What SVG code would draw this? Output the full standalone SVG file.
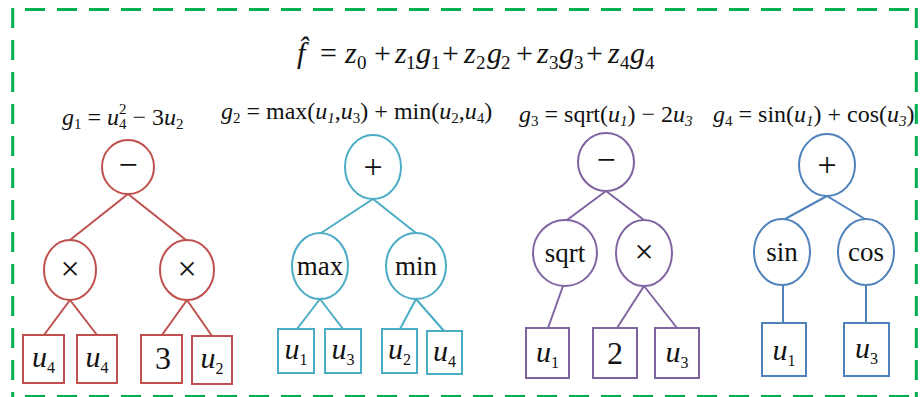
<svg xmlns="http://www.w3.org/2000/svg" width="920" height="397" viewBox="0 0 920 397">
<style>
text{font-family:"Liberation Serif","Times New Roman",serif;fill:#111}
.i{font-style:italic}
.lab{font-size:24px}
.s{font-size:15px}
.fm{font-size:30px}
.fs{font-size:19px}
.nt{font-size:27px;text-anchor:middle}
.op{font-size:34px;text-anchor:middle}
.lf{font-size:30px;text-anchor:middle}
.ls{font-size:16px;font-style:normal}
.dg{font-size:32px;text-anchor:middle}
.border{stroke:#00B050;stroke-width:3;stroke-dasharray:20 12;fill:none}
.red{stroke:#C0504D;stroke-width:2;fill:#fff}
.cyan{stroke:#4BACC6;stroke-width:2;fill:#fff}
.pur{stroke:#8064A2;stroke-width:2;fill:#fff}
.blu{stroke:#4F81BD;stroke-width:2;fill:#fff}
.er{stroke:#C0504D;stroke-width:2}
.ec{stroke:#4BACC6;stroke-width:2}
.ep{stroke:#8064A2;stroke-width:2}
.eb{stroke:#4F81BD;stroke-width:2}
</style>
<g id="frame">
<line class="border" x1="25" y1="9.5" x2="917" y2="9.5"/>
<line class="border" x1="12.7" y1="8" x2="12.7" y2="397"/>
<line class="border" x1="916.3" y1="8" x2="916.3" y2="397"/>
<line class="border" x1="25" y1="396.5" x2="917" y2="396.5"/>
</g>
<g id="formula">
<text class="fm"><tspan class="i" x="297" y="63">f̂</tspan><tspan x="320" y="63">=</tspan><tspan class="i" x="345" y="63">z</tspan><tspan class="fs" x="357" y="69">0</tspan><tspan x="374" y="63">+</tspan><tspan class="i" x="395" y="63">z</tspan><tspan class="fs" x="406" y="69">1</tspan><tspan class="i" x="416" y="63">g</tspan><tspan class="fs" x="431" y="69">1</tspan><tspan x="442" y="63">+</tspan><tspan class="i" x="464" y="63">z</tspan><tspan class="fs" x="476" y="69">2</tspan><tspan class="i" x="487" y="63">g</tspan><tspan class="fs" x="501" y="69">2</tspan><tspan x="516" y="63">+</tspan><tspan class="i" x="537" y="63">z</tspan><tspan class="fs" x="549" y="69">3</tspan><tspan class="i" x="559" y="63">g</tspan><tspan class="fs" x="574" y="69">3</tspan><tspan x="586" y="63">+</tspan><tspan class="i" x="608" y="63">z</tspan><tspan class="fs" x="620" y="69">4</tspan><tspan class="i" x="630" y="63">g</tspan><tspan class="fs" x="645" y="69">4</tspan></text>
</g>
<g id="labels">
<text class="lab" x="62" y="125"><tspan class="i">g</tspan><tspan class="s" dy="4">1</tspan><tspan dy="-4"> = </tspan><tspan class="i">u</tspan><tspan class="s" dy="-11">2</tspan><tspan class="s" dx="-7.5" dy="15">4</tspan><tspan dy="-4"> − 3</tspan><tspan class="i">u</tspan><tspan class="s" dy="4">2</tspan></text>
<text class="lab" x="221" y="119"><tspan class="i">g</tspan><tspan class="s" dy="4">2</tspan><tspan dy="-4"> = max(</tspan><tspan class="i">u</tspan><tspan class="s i" dy="4">1</tspan><tspan dy="-4">,</tspan><tspan class="i">u</tspan><tspan class="s" dy="4">3</tspan><tspan dy="-4">) + min(</tspan><tspan class="i">u</tspan><tspan class="s" dy="4">2</tspan><tspan dy="-4">,</tspan><tspan class="i">u</tspan><tspan class="s" dy="4">4</tspan><tspan dy="-4">)</tspan></text>
<text class="lab" x="519" y="122"><tspan class="i">g</tspan><tspan class="s" dy="4">3</tspan><tspan dy="-4"> = sqrt(</tspan><tspan class="i">u</tspan><tspan class="s i" dy="4">1</tspan><tspan dy="-4">) − 2</tspan><tspan class="i">u</tspan><tspan class="s i" dy="4">3</tspan></text>
<text class="lab" x="713" y="122"><tspan class="i">g</tspan><tspan class="s" dy="4">4</tspan><tspan dy="-4"> = sin(</tspan><tspan class="i">u</tspan><tspan class="s i" dy="4">1</tspan><tspan dy="-4">) + cos(</tspan><tspan class="i">u</tspan><tspan class="s i" dy="4">3</tspan><tspan dy="-4">)</tspan></text>
</g>
<g id="connectors">
<line class="er" x1="128" y1="194" x2="70" y2="240"/>
<line class="er" x1="128" y1="194" x2="186" y2="240"/>
<line class="er" x1="70" y1="300" x2="44" y2="335"/>
<line class="er" x1="70" y1="300" x2="97" y2="335"/>
<line class="er" x1="187" y1="300" x2="162" y2="335"/>
<line class="er" x1="187" y1="300" x2="212" y2="336"/>
<line class="ec" x1="373" y1="199" x2="321" y2="233"/>
<line class="ec" x1="373" y1="199" x2="416" y2="233"/>
<line class="ec" x1="320" y1="299" x2="297" y2="329"/>
<line class="ec" x1="320" y1="299" x2="343" y2="329"/>
<line class="ec" x1="416" y1="299" x2="400" y2="329"/>
<line class="ec" x1="416" y1="299" x2="444" y2="331"/>
<line class="ep" x1="606" y1="191" x2="567" y2="220"/>
<line class="ep" x1="606" y1="191" x2="644" y2="220"/>
<line class="ep" x1="563" y1="286" x2="548" y2="328"/>
<line class="ep" x1="644" y1="286" x2="617" y2="328"/>
<line class="ep" x1="644" y1="286" x2="677" y2="328"/>
<line class="eb" x1="827" y1="196" x2="785" y2="219"/>
<line class="eb" x1="827" y1="196" x2="865" y2="219"/>
<line class="eb" x1="783" y1="285" x2="783" y2="323"/>
<line class="eb" x1="866" y1="285" x2="866" y2="323"/>
</g>
<g id="r-root"><ellipse class="red" cx="128" cy="167" rx="26" ry="27"/><text class="op" x="128" y="176" font-size="30">−</text></g>
<g id="r-mul1"><ellipse class="red" cx="70" cy="270" rx="26" ry="30"/><text class="op" x="70" y="280">×</text></g>
<g id="r-mul2"><ellipse class="red" cx="187" cy="270" rx="27" ry="30"/><text class="op" x="187" y="280">×</text></g>
<g id="r-u4a"><rect class="red" x="23" y="335" width="41" height="48"/><text class="lf" x="43.5" y="367"><tspan class="i">u</tspan><tspan class="ls" dy="6">4</tspan></text></g>
<g id="r-u4b"><rect class="red" x="77" y="335" width="40" height="48"/><text class="lf" x="97" y="367"><tspan class="i">u</tspan><tspan class="ls" dy="6">4</tspan></text></g>
<g id="r-3"><rect class="red" x="141" y="335" width="41" height="48"/><text class="dg" x="163" y="369">3</text></g>
<g id="r-u2"><rect class="red" x="192" y="336" width="40" height="48"/><text class="lf" x="212" y="368"><tspan class="i">u</tspan><tspan class="ls" dy="6">2</tspan></text></g>
<g id="c-root"><ellipse class="cyan" cx="373" cy="167" rx="28" ry="32"/><text class="op" x="373" y="178">+</text></g>
<g id="c-max"><ellipse class="cyan" cx="320" cy="266" rx="28" ry="33"/><text class="nt" x="320" y="275">max</text></g>
<g id="c-min"><ellipse class="cyan" cx="416" cy="266" rx="30" ry="33"/><text class="nt" x="416" y="275">min</text></g>
<g id="c-u1"><rect class="cyan" x="278" y="329" width="36" height="44"/><text class="lf" x="296" y="359"><tspan class="i">u</tspan><tspan class="ls" dy="6">1</tspan></text></g>
<g id="c-u3"><rect class="cyan" x="325" y="329" width="36" height="44"/><text class="lf" x="343" y="359"><tspan class="i">u</tspan><tspan class="ls" dy="6">3</tspan></text></g>
<g id="c-u2"><rect class="cyan" x="382" y="329" width="35" height="44"/><text class="lf" x="399.5" y="359"><tspan class="i">u</tspan><tspan class="ls" dy="6">2</tspan></text></g>
<g id="c-u4"><rect class="cyan" x="427" y="331" width="35" height="43"/><text class="lf" x="444.5" y="361"><tspan class="i">u</tspan><tspan class="ls" dy="6">4</tspan></text></g>
<g id="p-root"><ellipse class="pur" cx="606" cy="162" rx="28" ry="29"/><text class="op" x="606" y="171" font-size="30">−</text></g>
<g id="p-sqrt"><ellipse class="pur" cx="565" cy="253" rx="32" ry="33"/><text class="nt" x="565" y="262">sqrt</text></g>
<g id="p-mul"><ellipse class="pur" cx="644" cy="253" rx="28" ry="33"/><text class="op" x="644" y="263">×</text></g>
<g id="p-u1"><rect class="pur" x="526" y="328" width="43" height="50"/><text class="lf" x="547.5" y="362"><tspan class="i">u</tspan><tspan class="ls" dy="6">1</tspan></text></g>
<g id="p-2"><rect class="pur" x="593" y="328" width="44" height="50"/><text class="dg" x="615" y="364">2</text></g>
<g id="p-u3"><rect class="pur" x="655" y="328" width="44" height="50"/><text class="lf" x="677" y="362"><tspan class="i">u</tspan><tspan class="ls" dy="6">3</tspan></text></g>
<g id="b-root"><ellipse class="blu" cx="827" cy="165" rx="28" ry="31"/><text class="op" x="827" y="176">+</text></g>
<g id="b-sin"><ellipse class="blu" cx="782" cy="252" rx="28" ry="33"/><text class="nt" x="782" y="261">sin</text></g>
<g id="b-cos"><ellipse class="blu" cx="866" cy="252" rx="28" ry="33"/><text class="nt" x="866" y="261">cos</text></g>
<g id="b-u1"><rect class="blu" x="762" y="323" width="44" height="53"/><text class="lf" x="784" y="360"><tspan class="i">u</tspan><tspan class="ls" dy="6">1</tspan></text></g>
<g id="b-u3"><rect class="blu" x="844" y="323" width="45" height="53"/><text class="lf" x="866.5" y="358"><tspan class="i">u</tspan><tspan class="ls" dy="6">3</tspan></text></g>
</svg>
